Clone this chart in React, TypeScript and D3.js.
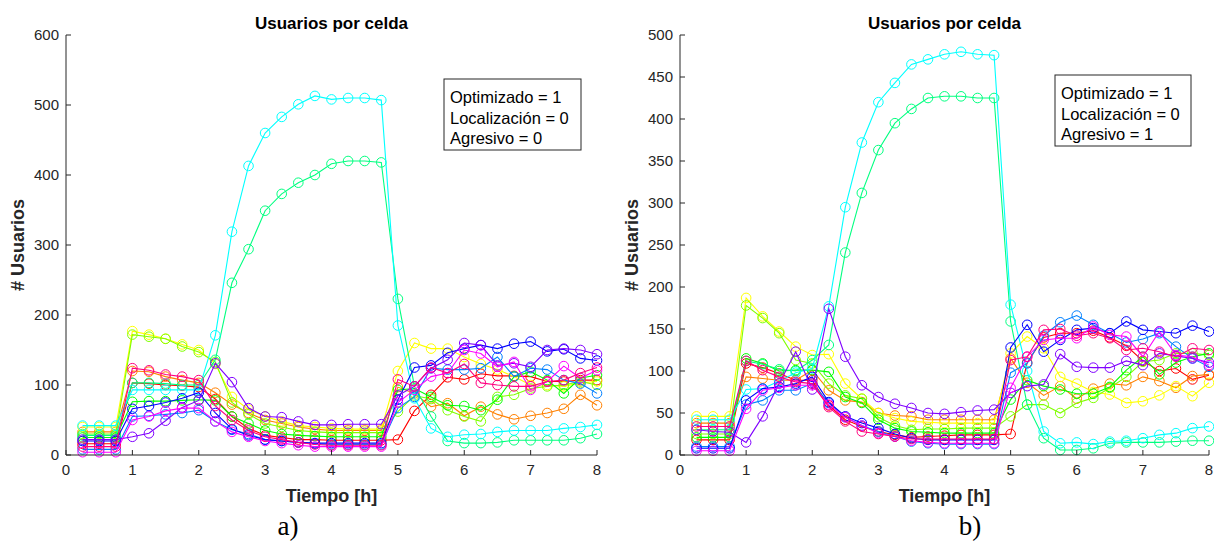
import React from "react";
import * as d3 from "d3";

const times = [0.25, 0.5, 0.75, 1, 1.25, 1.5, 1.75, 2, 2.25, 2.5, 2.75, 3, 3.25, 3.5, 3.75, 4, 4.25, 4.5, 4.75, 5, 5.25, 5.5, 5.75, 6, 6.25, 6.5, 6.75, 7, 7.25, 7.5, 7.75, 8];

const seriesColors = ["#FF0000", "#FF8000", "#FFFF00", "#80FF00", "#00FF00", "#00FF80", "#00FFFF", "#0080FF", "#0000FF", "#8000FF", "#FF00FF", "#FF0080"];

// Panel a) Optimizado=1, Localización=0, Agresivo=0
const aRed = [16, 16, 16, 103, 102, 100, 99, 97, 80, 55, 38, 28, 25, 22, 22, 21, 21, 21, 21, 22, 63, 86, 111, 108, 116, 113, 113, 112, 105, 105, 107, 107];
const aOrange = [33, 33, 33, 120, 119, 112, 107, 103, 89, 72, 60, 50, 45, 40, 37, 35, 35, 35, 35, 97, 88, 69, 74, 56, 69, 58, 51, 56, 60, 66, 86, 71];
const aYellow = [40, 40, 40, 177, 172, 166, 158, 150, 130, 83, 65, 55, 48, 42, 40, 38, 37, 37, 37, 120, 160, 152, 152, 140, 130, 122, 112, 100, 100, 98, 103, 105];
const aChartreuse = [30, 30, 30, 172, 169, 166, 155, 147, 133, 75, 58, 45, 40, 35, 33, 32, 32, 32, 32, 62, 85, 80, 64, 55, 48, 83, 86, 95, 98, 100, 105, 100];
const aGreen = [25, 25, 25, 76, 77, 77, 78, 79, 78, 55, 45, 35, 30, 28, 27, 26, 26, 26, 26, 93, 95, 83, 71, 70, 64, 79, 112, 119, 107, 88, 110, 114];
const aSpring = [28, 28, 28, 103, 103, 102, 100, 100, 136, 246, 294, 349, 373, 389, 400, 416, 420, 420, 418, 223, 98, 55, 20, 17, 17, 18, 21, 21, 21, 21, 24, 30];
const aCyan = [42, 42, 42, 93, 93, 93, 93, 93, 171, 319, 413, 460, 483, 501, 513, 508, 510, 510, 507, 185, 81, 38, 26, 29, 30, 33, 35, 35, 35, 38, 40, 43];
const aAzure = [8, 8, 8, 55, 56, 58, 60, 64, 48, 36, 30, 22, 20, 18, 16, 15, 15, 15, 15, 67, 83, 124, 122, 122, 124, 140, 112, 124, 122, 107, 102, 88];
const aBlue = [20, 20, 20, 66, 70, 75, 81, 89, 60, 37, 28, 22, 20, 18, 17, 17, 17, 17, 17, 79, 125, 128, 146, 152, 157, 152, 159, 162, 148, 151, 138, 135];
const aViolet = [22, 22, 22, 26, 31, 49, 68, 78, 131, 104, 67, 55, 54, 48, 43, 43, 44, 44, 44, 85, 98, 124, 136, 160, 157, 128, 131, 126, 150, 152, 150, 144];
const aMagenta = [4, 4, 4, 50, 55, 63, 67, 67, 48, 33, 26, 20, 17, 14, 12, 12, 12, 12, 12, 75, 93, 112, 117, 150, 145, 126, 133, 93, 105, 127, 110, 121];
const aRose = [12, 12, 12, 124, 121, 115, 112, 107, 70, 50, 35, 26, 22, 18, 15, 14, 14, 14, 14, 108, 98, 125, 117, 130, 103, 100, 98, 98, 105, 107, 117, 125];

// Panel b) Optimizado=1, Localización=0, Agresivo=1
const bRed = [18, 18, 18, 109, 104, 97, 89, 89, 59, 42, 34, 28, 24, 21, 22, 23, 24, 24, 24, 25, 110, 140, 145, 145, 148, 140, 130, 112, 100, 103, 90, 95];
const bOrange = [38, 38, 38, 93, 91, 89, 89, 101, 77, 65, 63, 50, 47, 46, 42, 42, 42, 42, 42, 115, 86, 71, 82, 67, 79, 85, 83, 93, 88, 80, 94, 96];
const bYellow = [46, 46, 46, 187, 165, 147, 129, 119, 120, 85, 67, 50, 44, 40, 39, 38, 38, 38, 38, 121, 141, 127, 93, 85, 75, 72, 62, 64, 71, 82, 70, 86];
const bChartreuse = [25, 25, 25, 178, 163, 145, 113, 109, 85, 71, 67, 45, 35, 30, 31, 31, 32, 32, 32, 46, 60, 60, 50, 62, 68, 80, 93, 111, 113, 121, 121, 119];
const bGreen = [21, 21, 21, 115, 109, 100, 101, 101, 99, 69, 62, 42, 32, 28, 27, 26, 26, 26, 26, 66, 89, 82, 78, 73, 73, 81, 101, 117, 96, 110, 117, 121];
const bSpring = [30, 30, 30, 112, 108, 102, 100, 113, 131, 241, 312, 363, 395, 412, 425, 427, 427, 425, 425, 159, 60, 20, 6, 6, 8, 14, 15, 15, 15, 16, 17, 17];
const bCyan = [42, 42, 42, 78, 79, 88, 98, 103, 177, 295, 372, 420, 443, 465, 471, 477, 480, 477, 476, 179, 100, 28, 14, 15, 13, 16, 17, 20, 24, 26, 32, 34];
const bAzure = [10, 10, 10, 60, 65, 77, 77, 85, 62, 45, 35, 28, 22, 16, 14, 13, 13, 13, 13, 98, 109, 142, 158, 166, 155, 145, 134, 138, 145, 129, 115, 105];
const bBlue = [8, 8, 8, 65, 79, 81, 85, 93, 63, 46, 38, 32, 25, 20, 18, 18, 18, 18, 18, 128, 155, 123, 137, 149, 151, 145, 159, 149, 147, 145, 154, 147];
const bViolet = [30, 28, 27, 15, 46, 85, 123, 78, 174, 117, 83, 69, 61, 56, 50, 49, 51, 53, 54, 74, 82, 84, 120, 105, 104, 104, 112, 107, 121, 118, 115, 110];
const bMagenta = [5, 5, 5, 55, 77, 80, 83, 83, 60, 45, 35, 26, 22, 17, 15, 14, 14, 14, 14, 80, 117, 137, 139, 139, 153, 143, 141, 117, 147, 119, 117, 107];
const bRose = [34, 34, 34, 112, 101, 93, 87, 85, 57, 40, 28, 25, 22, 19, 19, 19, 19, 19, 19, 113, 117, 149, 150, 142, 145, 139, 125, 127, 123, 117, 127, 125];

const xTicks = [0, 1, 2, 3, 4, 5, 6, 7, 8];
const aYTicks = [0, 100, 200, 300, 400, 500, 600];
const bYTicks = [0, 50, 100, 150, 200, 250, 300, 350, 400, 450, 500];
const aLegend = ["Optimizado = 1", "Localización = 0", "Agresivo = 0"];
const bLegend = ["Optimizado = 1", "Localización = 0", "Agresivo = 1"];

const panelA = [aRed, aOrange, aYellow, aChartreuse, aGreen, aSpring, aCyan, aAzure, aBlue, aViolet, aMagenta, aRose];
const panelB = [bRed, bOrange, bYellow, bChartreuse, bGreen, bSpring, bCyan, bAzure, bBlue, bViolet, bMagenta, bRose];

const FONT = "'Liberation Sans', Arial, Helvetica, sans-serif";
const AX = "#262626";

type PanelProps = {
  series: number[][];
  yTicks: number[];
  yMax: number;
  left: number;
  right: number;
  legend: string[];
  legendBox: { x: number; y: number; w: number; h: number };
  tag: string;
  tagX: number;
};

function Panel({ series, yTicks, yMax, left, right, legend, legendBox, tag, tagX }: PanelProps) {
  const top = 35;
  const bottom = 455;
  const x = d3.scaleLinear().domain([0, 8]).range([left, right]);
  const y = d3.scaleLinear().domain([0, yMax]).range([bottom, top]);
  const line = d3
    .line<number>()
    .x((_, i) => x(times[i]))
    .y((v) => y(v));
  const cx = (left + right) / 2;
  return (
    <g>
      {series.map((vals, si) => (
        <g key={si}>
          <path d={line(vals) || ""} fill="none" stroke={seriesColors[si]} strokeWidth={1.1} />
          {vals.map((v, i) => (
            <circle key={i} cx={x(times[i])} cy={y(v)} r={4.8} fill="none" stroke={seriesColors[si]} strokeWidth={1} />
          ))}
        </g>
      ))}
      <line x1={left} x2={left} y1={top} y2={bottom} stroke={AX} strokeWidth={1} />
      <line x1={left} x2={right} y1={bottom} y2={bottom} stroke={AX} strokeWidth={1} />
      {yTicks.map((t) => (
        <g key={"y" + t}>
          <line x1={left} x2={left + 5} y1={y(t)} y2={y(t)} stroke={AX} strokeWidth={1} />
          <text x={left - 7} y={y(t) + 5} textAnchor="end" fontSize={15} fill={AX} fontFamily={FONT}>
            {t}
          </text>
        </g>
      ))}
      {xTicks.map((t) => (
        <g key={"x" + t}>
          <line x1={x(t)} x2={x(t)} y1={bottom} y2={bottom - 5} stroke={AX} strokeWidth={1} />
          <text x={x(t)} y={bottom + 20} textAnchor="middle" fontSize={15} fill={AX} fontFamily={FONT}>
            {t}
          </text>
        </g>
      ))}
      <text x={cx} y={29} textAnchor="middle" fontSize={17} fontWeight="bold" fill="#000" fontFamily={FONT}>
        Usuarios por celda
      </text>
      <text x={cx} y={502} textAnchor="middle" fontSize={18} fontWeight="bold" fill={AX} fontFamily={FONT}>
        Tiempo [h]
      </text>
      <text
        transform={`translate(${left - 42},${(top + bottom) / 2}) rotate(-90)`}
        textAnchor="middle"
        fontSize={18}
        fontWeight="bold"
        fill={AX}
        fontFamily={FONT}
      >
        # Usuarios
      </text>
      <rect x={legendBox.x} y={legendBox.y} width={legendBox.w} height={legendBox.h} fill="#fff" stroke={AX} strokeWidth={1} />
      {legend.map((s, i) => (
        <text key={s} x={legendBox.x + 6} y={legendBox.y + 24 + i * 20.5} fontSize={16.5} fill="#000" fontFamily={FONT}>
          {s}
        </text>
      ))}
      <text x={tagX} y={535} textAnchor="middle" fontSize={27} fill="#000" fontFamily="'Liberation Serif', 'Times New Roman', serif">
        {tag}
      </text>
    </g>
  );
}

export default function App() {
  return (
    <svg width={1214} height={544} style={{ position: "absolute", left: 0, top: 0, background: "#fff" }}>
      <rect x={0} y={0} width={1214} height={544} fill="#fff" />
      <Panel
        series={panelA}
        yTicks={aYTicks}
        yMax={600}
        left={66}
        right={597}
        legend={aLegend}
        legendBox={{ x: 444, y: 79, w: 137, h: 71 }}
        tag="a)"
        tagX={288}
      />
      <Panel
        series={panelB}
        yTicks={bYTicks}
        yMax={500}
        left={680}
        right={1209}
        legend={bLegend}
        legendBox={{ x: 1055, y: 75, w: 136, h: 71 }}
        tag="b)"
        tagX={970}
      />
    </svg>
  );
}
